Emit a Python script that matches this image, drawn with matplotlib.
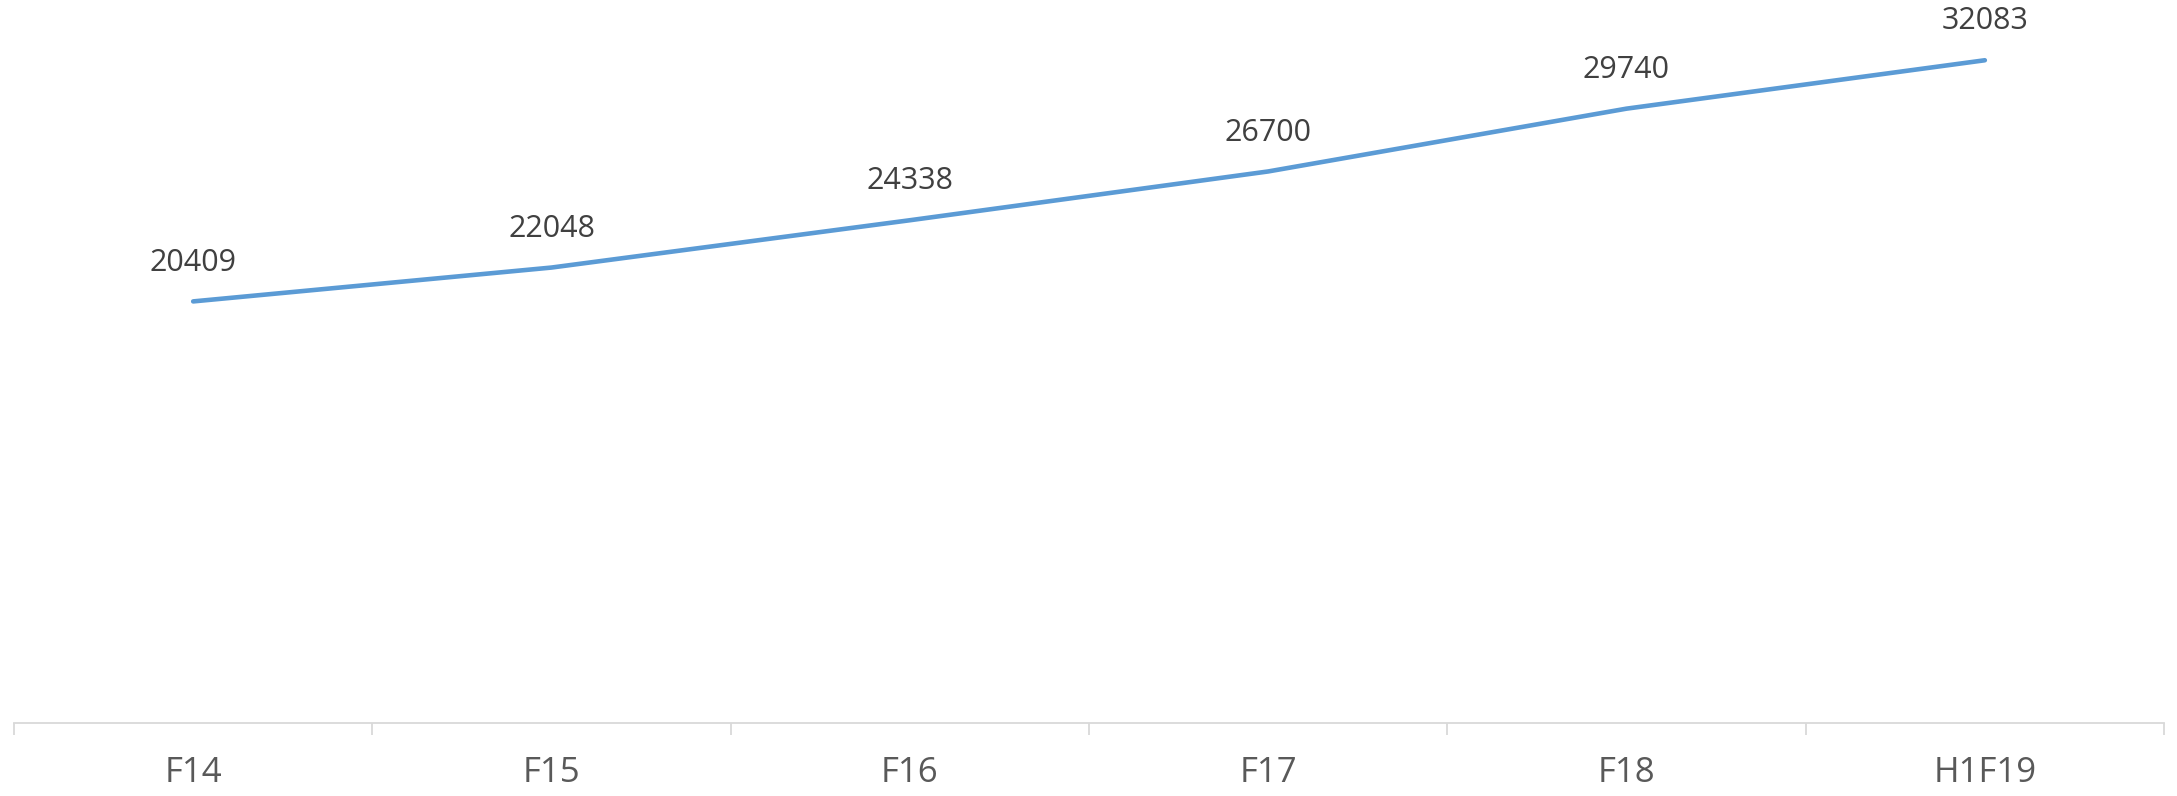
import matplotlib
matplotlib.use("Agg")
import matplotlib.pyplot as plt
from matplotlib.ticker import FixedLocator, NullFormatter
import numpy as np

categories = ["F14", "F15", "F16", "F17", "F18", "H1F19"]
values = [20409, 22048, 24338, 26700, 29740, 32083]

plt.rcParams['font.family'] = ['Open Sans', 'DejaVu Sans']

W, H, DPI = 2177, 796, 100
fig = plt.figure(figsize=(W / DPI, H / DPI), dpi=DPI)
ax = fig.add_axes([14 / W, (H - 723) / H, (2164 - 14) / W, 723 / H])

x = np.arange(len(categories))
ax.plot(x, values, color="#5B9BD5", linewidth=3.3, solid_capstyle="round",
        solid_joinstyle="round")

for xi, v in zip(x, values):
    ax.annotate(str(v), (xi, v), xytext=(0, 28), textcoords="offset points",
                ha="center", va="center", fontsize=22, color="#404040")

ax.set_xlim(-0.5, len(categories) - 0.5)
ax.set_ylim(0, 35000)

for s in ["top", "left", "right"]:
    ax.spines[s].set_visible(False)
ax.spines["bottom"].set_color("#D9D9D9")
ax.spines["bottom"].set_linewidth(1.3)

ax.xaxis.set_major_locator(FixedLocator(np.arange(len(categories) + 1) - 0.5))
ax.xaxis.set_major_formatter(NullFormatter())
ax.xaxis.set_minor_locator(FixedLocator(x))
ax.set_xticklabels(categories, minor=True)
ax.tick_params(axis="x", which="major", length=8.6, width=1.3, color="#D9D9D9",
               direction="out")
ax.tick_params(axis="x", which="minor", length=0, pad=24, labelsize=25,
               labelcolor="#595959")
ax.set_yticks([])

fig.savefig("out.png", dpi=DPI)
